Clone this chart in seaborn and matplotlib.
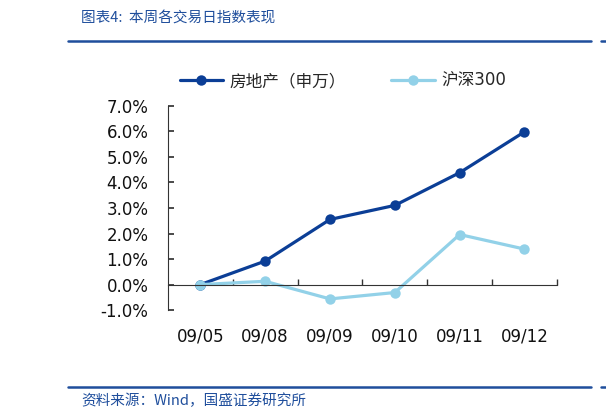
import matplotlib
matplotlib.use('Agg')
import matplotlib.pyplot as plt
import matplotlib.ticker as mticker
import pandas as pd
import seaborn as sns

sns.set_theme(style='white')
plt.rcParams['font.family'] = ['DejaVu Sans', 'Noto Sans CJK SC']
plt.rcParams['axes.unicode_minus'] = False

dates = ['09/05', '09/08', '09/09', '09/10', '09/11', '09/12']
realty = [0.0, 0.92, 2.55, 3.10, 4.38, 5.98]
hs300 = [0.0, 0.13, -0.56, -0.31, 1.96, 1.39]
names = ['房地产（申万）', '沪深300']
colors = ['#0B3E96', '#92D1E8']

df = pd.DataFrame({
    'date': dates * 2,
    'value': realty + hs300,
    'series': [names[0]] * len(dates) + [names[1]] * len(dates),
})

fig = plt.figure(figsize=(6.06, 4.18), dpi=100)
ax = fig.add_axes([0.277, 0.258, 0.642, 0.489])

sns.lineplot(data=df, x='date', y='value', hue='series', palette=colors,
             marker='o', markersize=7.5, markeredgewidth=0, linewidth=2.3,
             sort=False, ax=ax, legend=False)

ax.set_xlim(-0.5, 5.5)
ax.set_ylim(-1, 7)
ax.yaxis.set_major_locator(mticker.MultipleLocator(1))
ax.yaxis.set_major_formatter(mticker.FuncFormatter(lambda v, p: f'{v:.1f}%'))
ax.set_xlabel('')
ax.set_ylabel('')

for s in ['top', 'right']:
    ax.spines[s].set_visible(False)
ax.spines['bottom'].set_position(('data', 0))
ax.spines['bottom'].set_color('#333333')
ax.spines['left'].set_color('#333333')
ax.spines['bottom'].set_linewidth(0.8)
ax.spines['left'].set_linewidth(0.8)

ax.set_xticks(range(len(dates)))
ax.set_xticklabels(dates)
ax.set_xticks([i + 0.5 for i in range(len(dates))], minor=True)
ax.tick_params(axis='x', which='major', length=0, pad=31, labelsize=12, labelcolor='#111111')
ax.tick_params(axis='x', which='minor', direction='in', length=4, color='#333333', bottom=True)
ax.tick_params(axis='y', direction='in', length=4, color='#333333', left=True,
               labelsize=12, labelcolor='#111111', pad=14)

handles = [plt.Line2D([], [], color=c, marker='o', markersize=7.5, markeredgewidth=0, linewidth=2.3)
           for c in colors]
fig.legend(handles, names, loc='center left', bbox_to_anchor=(0.272, 0.806), ncol=2,
           frameon=False, fontsize=12, handlelength=2.6, columnspacing=2.7, handletextpad=0.4)

title_color = '#1F4E9C'
cjk = ['Noto Sans CJK SC', 'DejaVu Sans']
fig.text(0.134, 0.955, '图表4:  本周各交易日指数表现', fontsize=10.5, color=title_color,
         style='italic', va='center', ha='left', family=cjk)
fig.add_artist(plt.Line2D([0.113, 0.975], [0.901, 0.901], color=title_color, linewidth=1.8))
fig.add_artist(plt.Line2D([0.992, 1.0], [0.901, 0.901], color=title_color, linewidth=1.8))
fig.add_artist(plt.Line2D([0.113, 0.975], [0.073, 0.073], color=title_color, linewidth=1.8))
fig.add_artist(plt.Line2D([0.992, 1.0], [0.073, 0.073], color=title_color, linewidth=1.8))
fig.text(0.134, 0.042, '资料来源：Wind，国盛证券研究所', fontsize=10.5, color=title_color,
         style='italic', va='center', ha='left', family=cjk)

fig.savefig('out.png', dpi=100)
